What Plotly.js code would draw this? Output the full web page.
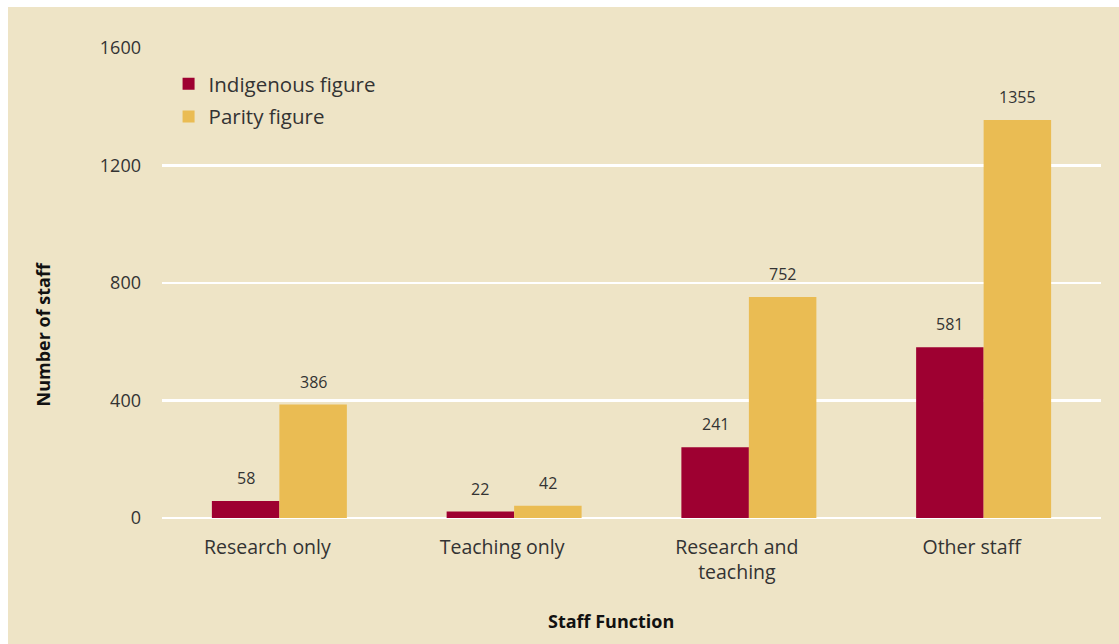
<!DOCTYPE html>
<html><head><meta charset="utf-8">
<script src="https://cdn.plot.ly/plotly-3.0.1.min.js"></script>
<style>
html,body{margin:0;padding:0;background:#ffffff;}
#chart{position:absolute;left:8px;top:7px;width:1111px;height:637px;}
</style></head>
<body><div id="chart"></div>
<script>
const categories = ["Research only", "Teaching only", "Research and<br>teaching", "Other staff"];
const indigenous = [58, 22, 241, 581];
const parity = [386, 42, 752, 1355];
const seriesNames = ["Indigenous figure", "Parity figure"];
const yTicks = [0, 400, 800, 1200, 1600];

const RED = "#9E0031", GOLD = "#EABC53", BG = "#EEE4C6", TXT = "#333333";
const font = "Open Sans, Lato, sans-serif";

const traces = [
  {type:"bar", name:seriesNames[0], x:categories, y:indigenous, marker:{color:RED}, legendgroup:"a", hoverinfo:"y"},
  {type:"bar", name:seriesNames[1], x:categories, y:parity, marker:{color:GOLD}, legendgroup:"b", hoverinfo:"y"}
];

const bargap = 0.425;
const shift = 235 * (1 - bargap) / 4;
const annotations = [];
[indigenous, parity].forEach((arr, si) => {
  arr.forEach((v, i) => {
    annotations.push({x:categories[i], y:v, xref:"x", yref:"y", text:String(v), showarrow:false,
      xshift: si === 0 ? -shift : shift, yanchor:"bottom", yshift:10,
      font:{family:font, size:16, color:TXT}});
  });
});
annotations.push({text:"<b>Staff Function</b>", xref:"paper", yref:"paper", x:0.478, y:-0.22, xanchor:"center", yanchor:"middle", showarrow:false, font:{family:font, size:18, color:"#111"}});
annotations.push({text:"<b>Number of staff</b>", xref:"paper", yref:"paper", x:-0.127, y:0.39, textangle:-90, xanchor:"center", yanchor:"middle", showarrow:false, font:{family:font, size:18, color:"#111"}});

const layout = {
  width:1111, height:637,
  paper_bgcolor:BG, plot_bgcolor:BG,
  margin:{l:153.5, r:17.5, t:41, b:126, pad:0},
  barmode:"group", bargap:bargap, bargroupgap:0,
  font:{family:font, color:TXT, size:18},
  showlegend:true,
  legend:{x:0.007, y:0.966, xanchor:"left", yanchor:"top", bgcolor:"rgba(0,0,0,0)",
    font:{family:font, size:20.5, color:TXT}, traceorder:"grouped", tracegroupgap:3},
  xaxis:{type:"category", showgrid:false, zeroline:false, showline:false, ticks:"",
    tickfont:{family:font, size:19.5, color:TXT}, ticklabelstandoff:15, ticklabelshift:-12, fixedrange:true},
  yaxis:{range:[0,1600], tickvals:yTicks, ticktext:yTicks.map(String), showgrid:true, gridcolor:"#ffffff", gridwidth:2.5,
    zeroline:true, zerolinecolor:"#ffffff", zerolinewidth:2.5, showline:false, ticks:"",
    tickfont:{family:font, size:18, color:TXT}, ticklabelstandoff:20, fixedrange:true},
  annotations:annotations
};
Plotly.newPlot("chart", traces, layout, {displayModeBar:false, staticPlot:true});
</script></body></html>
